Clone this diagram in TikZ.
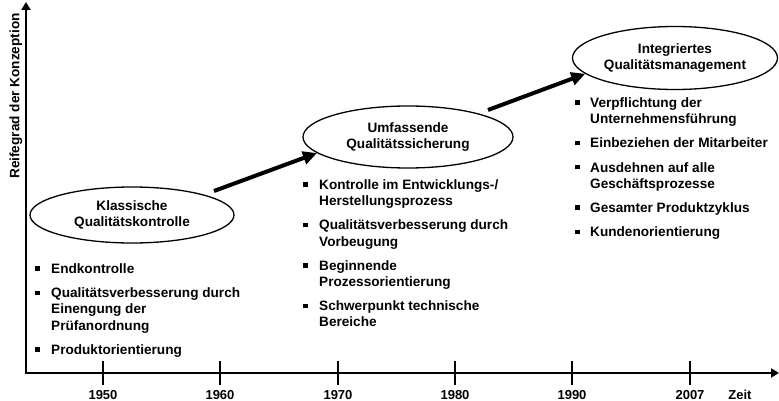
\documentclass[tikz,border=0pt]{standalone}
\usepackage{fontspec}
\setmainfont{Liberation Sans}
\usetikzlibrary{shapes.geometric, arrows.meta, positioning}

\newcommand{\pkt}{\rule[2.6pt]{4.5pt}{4.5pt}}

\begin{document}
\begin{tikzpicture}[x=1pt, y=-1pt,
    every node/.style={font=\fontsize{13.6}{16.2}\selectfont\bfseries, inner sep=0pt},
    phase/.style={ellipse, draw, line width=1.3pt, align=center},
    liste/.style={anchor=base west},
    pfeil/.style={line width=4pt, -{Triangle[length=14pt,width=13pt]}},
    achse/.style={line width=2.8pt, -{Triangle[length=8pt,width=9pt]}},
    jahr/.style={font=\fontsize{13}{15}\selectfont\bfseries}]
  \useasboundingbox (0,0) rectangle (779,401);

  % Achsen
  \coordinate (ursprung) at (26,373);
  \coordinate (yende) at (26,2);
  \coordinate (xende) at (779,373);
  \draw[achse] ([yshift=-1.4pt]ursprung) -- (yende);
  \draw[achse] ([xshift=-1.4pt]ursprung) -- (xende);
  \node[rotate=90] (ylabel) at (16,96) {Reifegrad der Konzeption};
  \node[jahr] (zeit) at (740,395) {Zeit};

  % Jahre
  \foreach \x/\j in {103/1950, 220/1960, 338/1970, 455/1980, 572/1990, 690/2007} {
    \draw[line width=2.3pt] (\x,361) -- (\x,385);
    \node[jahr] (j\j) at (\x,395) {\j};
  }

  % Phasen
  \node[phase, minimum width=204pt, minimum height=56pt] (klass) at (132,215)
    {Klassische\\Qualitätskontrolle};
  \node[phase, minimum width=210pt, minimum height=62pt] (umf) at (408,137)
    {Umfassende\\Qualitätssicherung};
  \node[phase, minimum width=205pt, minimum height=63pt] (integ) at (675,58)
    {Integriertes\\Qualitätsmanagement};

  \coordinate (start1) at (214,191);
  \coordinate (start2) at (488,110);
  \draw[pfeil] (start1) -- (umf.190);
  \draw[pfeil] (start2) -- (integ.190);

  % Merkmale
  \node[liste] (merk1) at (35,273.5) {\begin{tabular}[t]{@{}l@{\hspace{11.5pt}}l@{}}
      \pkt & Endkontrolle\\[8pt]
      \pkt & Qualitätsverbesserung durch\\
           & Einengung der\\
           & Prüfanordnung\\[8pt]
      \pkt & Produktorientierung
    \end{tabular}};
  \node[liste] (merk2) at (303,189.5) {\begin{tabular}[t]{@{}l@{\hspace{11.5pt}}l@{}}
      \pkt & Kontrolle im Entwicklungs-/\\
           & Herstellungsprozess\\[8pt]
      \pkt & Qualitätsverbesserung durch\\
           & Vorbeugung\\[8pt]
      \pkt & Beginnende\\
           & Prozessorientierung\\[8pt]
      \pkt & Schwerpunkt technische\\
           & Bereiche
    \end{tabular}};
  \node[liste] (merk3) at (575,107.5) {\begin{tabular}[t]{@{}l@{\hspace{10.5pt}}l@{}}
      \pkt & Verpflichtung der\\
           & Unternehmensführung\\[8pt]
      \pkt & Einbeziehen der Mitarbeiter\\[8pt]
      \pkt & Ausdehnen auf alle\\
           & Geschäftsprozesse\\[8pt]
      \pkt & Gesamter Produktzyklus\\[8pt]
      \pkt & Kundenorientierung
    \end{tabular}};
\end{tikzpicture}
\end{document}
